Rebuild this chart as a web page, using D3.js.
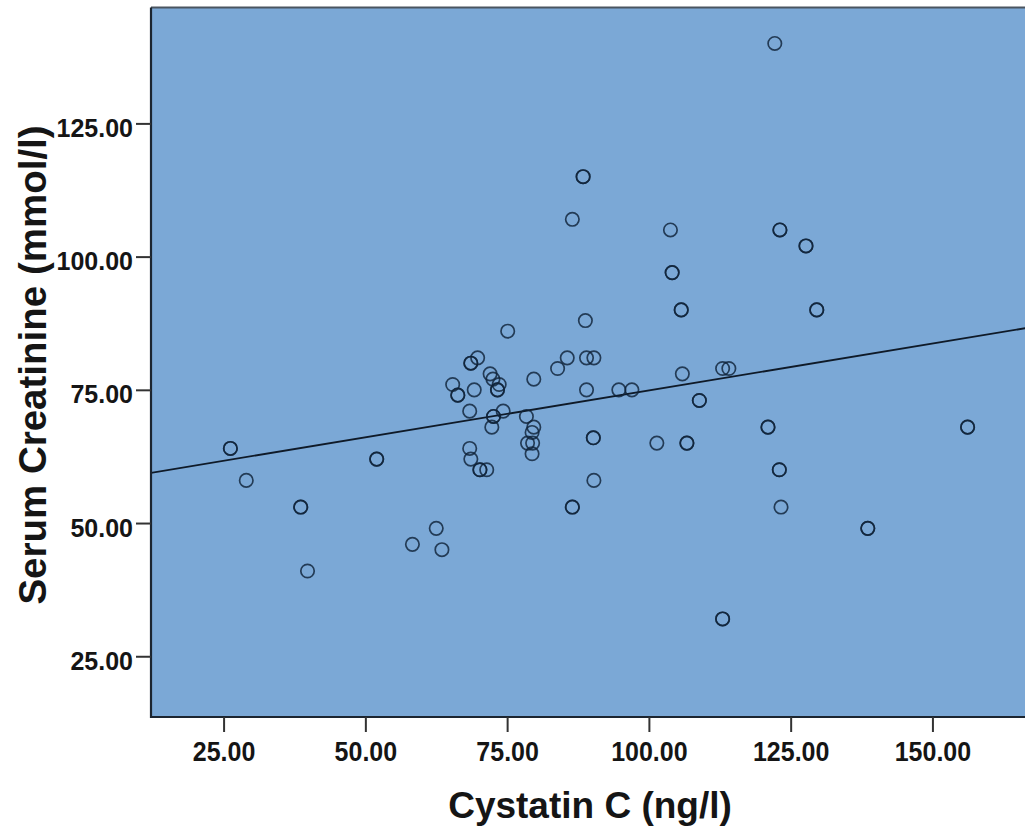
<!DOCTYPE html>
<html>
<head>
<meta charset="utf-8">
<script src="https://cdn.jsdelivr.net/npm/d3@7"></script>
<style>
  html, body { margin: 0; padding: 0; background: #ffffff; }
  svg { display: block; }
</style>
</head>
<body>
<svg id="chart" width="1025" height="829"></svg>
<script>
// ---- data ----
const cystatinC = [
  26.2, 26.2, 29.0, 38.6, 38.6, 39.8, 52.0, 52.0, 58.3, 62.5, 63.5,
  65.4, 66.3, 66.3, 68.6, 68.6, 69.8, 69.2, 68.4, 68.4, 68.6, 70.2, 70.2, 71.4,
  72.0, 72.5, 73.6, 73.3, 73.3, 74.3, 72.6, 72.6, 72.3, 75.1,
  78.4, 79.7, 79.4, 78.6, 79.5, 79.4, 79.7, 83.9, 85.6, 89.0, 90.3, 88.8,
  89.0, 94.7, 97.0, 90.2, 90.2, 90.3, 86.5, 86.5, 88.4, 88.4, 86.5,
  103.8, 104.1, 104.1, 105.7, 105.7, 105.9, 101.4, 106.7, 106.7, 108.9, 108.9,
  113.0, 114.1, 122.2, 123.1, 123.1, 127.7, 127.7, 129.6, 129.6,
  121.0, 121.0, 156.2, 156.2, 123.0, 123.0, 123.3, 138.6, 138.6, 113.0, 113.0
];
const serumCreatinine = [
  64, 64, 58, 53, 53, 41, 62, 62, 46, 49, 45,
  76, 74, 74, 80, 80, 81, 75, 71, 64, 62, 60, 60, 60,
  78, 77, 76, 75, 75, 71, 70, 70, 68, 86,
  70, 68, 67, 65, 65, 63, 77, 79, 81, 81, 81, 88,
  75, 75, 75, 66, 66, 58, 53, 53, 115, 115, 107,
  105, 97, 97, 90, 90, 78, 65, 65, 65, 73, 73,
  79, 79, 140, 105, 105, 102, 102, 90, 90,
  68, 68, 68, 68, 60, 60, 53, 49, 49, 32, 32
];
const xTicks = [25, 50, 75, 100, 125, 150];
const yTicks = [25, 50, 75, 100, 125];
const xDomain = [12.2, 166.5];
const yDomain = [13.6, 146.75];
const fitIntercept = 57.28;
const fitSlope = 0.176;
const xTitle = "Cystatin C (ng/l)";
const yTitle = "Serum Creatinine (mmol/l)";

// ---- layout ----
const plot = { left: 151, top: 7.5, right: 1026, bottom: 717 };
const svg = d3.select("#chart");

const x = d3.scaleLinear().domain(xDomain).range([plot.left, plot.right]);
const y = d3.scaleLinear().domain(yDomain).range([plot.bottom, plot.top]);
const fmt = d3.format(".2f");

// background
svg.append("rect")
  .attr("x", plot.left).attr("y", plot.top)
  .attr("width", plot.right - plot.left).attr("height", plot.bottom - plot.top)
  .attr("fill", "#7ba8d6");

// top border
svg.append("line")
  .attr("x1", plot.left).attr("x2", plot.right)
  .attr("y1", plot.top).attr("y2", plot.top)
  .attr("stroke", "#4a5560").attr("stroke-width", 2);

// clip to plot area
const clipId = "plotclip";
svg.append("clipPath").attr("id", clipId).append("rect")
  .attr("x", plot.left).attr("y", plot.top)
  .attr("width", plot.right - plot.left).attr("height", plot.bottom - plot.top);

// regression line
svg.append("line")
  .attr("clip-path", `url(#${clipId})`)
  .attr("x1", x(xDomain[0])).attr("y1", y(fitIntercept + fitSlope * xDomain[0]))
  .attr("x2", x(xDomain[1])).attr("y2", y(fitIntercept + fitSlope * xDomain[1]))
  .attr("stroke", "#0f1a28").attr("stroke-width", 1.8);

// points
const pts = cystatinC.map((v, i) => ({ cx: v, cy: serumCreatinine[i] }));
svg.append("g").attr("clip-path", `url(#${clipId})`)
  .selectAll("circle").data(pts).join("circle")
  .attr("cx", d => x(d.cx)).attr("cy", d => y(d.cy))
  .attr("r", 6.7)
  .attr("fill", "none")
  .attr("stroke", "#102339")
  .attr("stroke-opacity", 0.82)
  .attr("stroke-width", 1.7);

// x axis
const xAxis = d3.axisBottom(x).tickValues(xTicks).tickFormat(fmt).tickSize(15).tickSizeOuter(0);
const gx = svg.append("g").attr("transform", `translate(0,${plot.bottom})`).call(xAxis);
gx.select(".domain").attr("stroke", "#1c2530").attr("stroke-width", 2.2)
  .attr("d", `M${plot.left - 1},0H${plot.right}`);
gx.selectAll(".tick line").attr("stroke", "#333").attr("stroke-width", 2);
gx.selectAll(".tick text")
  .attr("y", 40).attr("dy", 0)
  .attr("transform", "scale(1,1.1)")
  .attr("fill", "#151515")
  .style("font-family", "'Liberation Sans', Arial, sans-serif")
  .style("font-weight", "bold")
  .style("font-size", "25px");

// y axis
const yAxis = d3.axisLeft(y).tickValues(yTicks).tickFormat(fmt).tickSize(15).tickSizeOuter(0);
const gy = svg.append("g").attr("transform", `translate(${plot.left},0)`).call(yAxis);
gy.select(".domain").attr("stroke", "#1c2530").attr("stroke-width", 2.2)
  .attr("d", `M0,${plot.top}V${plot.bottom + 1}`);
gy.selectAll(".tick line").attr("stroke", "#333").attr("stroke-width", 2);
gy.selectAll(".tick text")
  .attr("x", -18).attr("dy", 0).attr("y", 13)
  .attr("fill", "#151515")
  .style("font-family", "'Liberation Sans', Arial, sans-serif")
  .style("font-weight", "bold")
  .style("font-size", "25px");

// axis titles
svg.append("text")
  .attr("x", 590).attr("y", 818)
  .attr("text-anchor", "middle")
  .attr("fill", "#151515")
  .style("font-family", "'Liberation Sans', Arial, sans-serif")
  .style("font-weight", "bold")
  .style("font-size", "37px")
  .text(xTitle);

svg.append("text")
  .attr("transform", "translate(46,365) rotate(-90)")
  .attr("text-anchor", "middle")
  .attr("fill", "#151515")
  .style("font-family", "'Liberation Sans', Arial, sans-serif")
  .style("font-weight", "bold")
  .style("font-size", "38.5px")
  .text(yTitle);
</script>
</body>
</html>
